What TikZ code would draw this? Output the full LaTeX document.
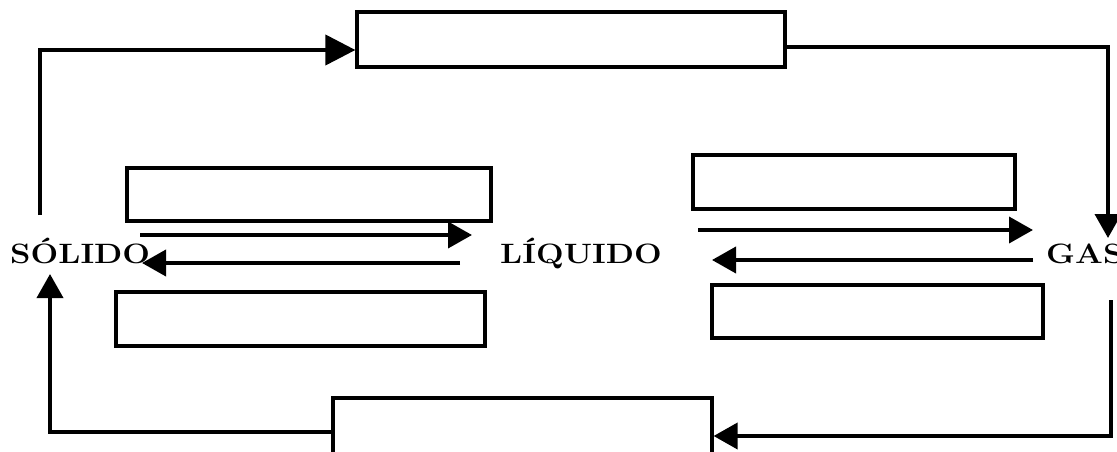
\documentclass[tikz,border=0pt]{standalone}
\usepackage{fontspec}
\usepackage{graphicx}
\usetikzlibrary{arrows.meta}
\tikzset{
  box/.style={draw=black, line width=3.2pt, minimum width=#1, inner sep=0pt},
  lbl/.style={inner sep=0pt, font=\fontsize{28}{32}\selectfont\bfseries},
  conn/.style={line width=3.8pt, -{Triangle[length=24pt,width=26pt]}},
  bigconn/.style={line width=4pt, -{Triangle[length=30pt,width=30pt]}}
}
\newcommand{\wide}[1]{\scalebox{1.17}[1]{#1}}
\begin{document}
\begin{tikzpicture}[x=1pt,y=-1pt]
\useasboundingbox (0,0) rectangle (1117,452);
% boxes
\node[box=428pt, minimum height=55pt] (top) at (571,39.5) {};
\node[box=379pt, minimum height=60pt] (bot) at (522.5,428) {};
\node[box=364pt, minimum height=53pt] (lu) at (309,194.5) {};
\node[box=369pt, minimum height=54pt] (ll) at (300.5,319) {};
\node[box=322pt, minimum height=54pt] (ru) at (854,182) {};
\node[box=331pt, minimum height=53pt] (rl) at (877.5,311.5) {};
% labels
\node[lbl, anchor=base west] (sol) at (10,263) {\wide{SÓLIDO}};
\node[lbl, anchor=base west] (liq) at (500,263) {\wide{LÍQUIDO}};
\node[lbl, anchor=base west] (gas) at (1046,263) {\wide{GAS}};
% coordinates
\coordinate (a1) at (40,215);
\coordinate (a2) at (40,50);
\coordinate (a3) at (top.west |- 0,50);
\coordinate (b1) at (top.east |- 0,47);
\coordinate (b2) at (1108,47);
\coordinate (b3) at (1108,238);
\coordinate (c1) at (1111,300);
\coordinate (c2) at (1111,436);
\coordinate (c3) at (bot.east |- 0,436);
\coordinate (d1) at (bot.west |- 0,432);
\coordinate (d2) at (50,432);
\coordinate (d3) at (50,274);
\coordinate (e1) at (140,235);
\coordinate (e2) at (472,235);
\coordinate (f1) at (460,263);
\coordinate (f2) at (142,263);
\coordinate (g1) at (698,230);
\coordinate (g2) at (1033,230);
\coordinate (h1) at (1033,260);
\coordinate (h2) at (712,260);
% connectors
\draw[bigconn] (a1) -- (a2) -- (a3);
\draw[conn] (b1) -- (b2) -- (b3);
\draw[conn] (c1) -- (c2) -- (c3);
\draw[conn] (d1) -- (d2) -- (d3);
\draw[conn] (e1) -- (e2);
\draw[conn] (f1) -- (f2);
\draw[conn] (g1) -- (g2);
\draw[conn] (h1) -- (h2);
\end{tikzpicture}
\end{document}
